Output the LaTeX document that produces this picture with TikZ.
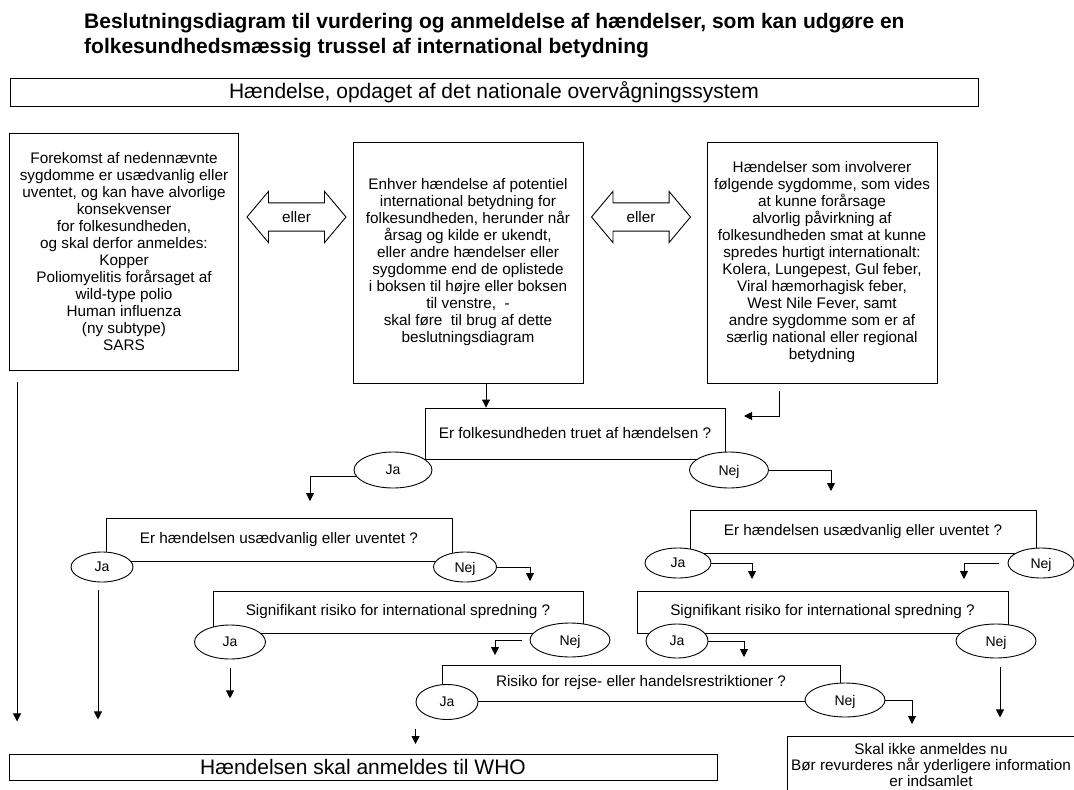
\documentclass[tikz,border=0pt]{standalone}
\usepackage{fontspec}
\setmainfont{Liberation Sans}
\usetikzlibrary{shapes.geometric,shapes.arrows,arrows.meta}

\newcommand{\titlesize}{\fontsize{21}{25}\selectfont\bfseries}
\newcommand{\bigsize}{\fontsize{21}{25}\selectfont}
\newcommand{\bodysize}{\fontsize{15.3}{17}\selectfont}
\newcommand{\ovalsize}{\fontsize{14}{16}\selectfont}

\tikzset{
  box/.style={draw, line width=0.9pt, inner sep=0pt, align=center, font=\bodysize},
  oval/.style={ellipse, draw, fill=white, line width=0.9pt, inner sep=0pt, font=\ovalsize,
    text depth=0pt},
  either/.style={double arrow, draw, line width=0.9pt, font=\bodysize,
    double arrow head extend=11.5pt, double arrow tip angle=100,
    minimum height=99pt, inner xsep=0pt, inner ysep=8pt},
  wire/.style={line width=0.9pt, ->},
  >={Triangle[length=8pt,width=8pt]}
}

\begin{document}
\begin{tikzpicture}[x=1pt, y=-1pt]
  \useasboundingbox (0,0) rectangle (1074,790);

  % Title
  \node[anchor=north west, align=left, font=\titlesize, inner sep=0pt] (title) at (84,13)
    {Beslutningsdiagram til vurdering og anmeldelse af hændelser, som kan udgøre en\\
     folkesundhedsmæssig trussel af international betydning};

  % Event
  \node[box, font=\bigsize, minimum width=968pt, minimum height=28pt] (event) at (494,92)
    {Hændelse, opdaget af det nationale overvågningssystem};

  % Three entry boxes
  \node[box, minimum width=229pt, minimum height=237pt] (listed) at (124,251.5)
    {Forekomst af nedennævnte\\ sygdomme er usædvanlig eller\\ uventet, og kan have alvorlige\\
     konsekvenser\\ for folkesundheden,\\ og skal derfor anmeldes:\\ Kopper\\
     Poliomyelitis forårsaget af\\ wild-type polio\\ Human influenza\\ (ny subtype)\\ SARS};
  \node[box, minimum width=230pt, minimum height=241pt] (any) at (468,262.5)
    {Enhver hændelse af potentiel\\ international betydning for\\ folkesundheden, herunder når\\
     årsag og kilde er ukendt,\\ eller andre hændelser eller\\ sygdomme end de oplistede\\
     i boksen til højre eller boksen\\ til venstre,~ -\\ skal føre~ til brug af dette\\
     beslutningsdiagram};
  \node[box, minimum width=230pt, minimum height=241pt] (severe) at (822,262.5)
    {Hændelser som involverer\\ følgende sygdomme, som vides\\ at kunne forårsage\\
     alvorlig påvirkning af\\ folkesundheden smat at kunne\\ spredes hurtigt internationalt:\\
     Kolera, Lungepest, Gul feber,\\ Viral hæmorhagisk feber,\\ West Nile Fever, samt\\
     andre sygdomme som er af\\ særlig national eller regional\\ betydning};

  % Either-or arrows
  \node[either] (or1) at (296.5,217) {eller};
  \node[either] (or2) at (641,217) {eller};

  % Questions
  \node[box, minimum width=300pt, minimum height=51pt] (q1) at (575,433.5)
    {Er folkesundheden truet af hændelsen ?};
  \node[box, minimum width=346pt, minimum height=43pt] (q2l) at (279,539.5)
    {Er hændelsen usædvanlig eller uventet ?};
  \node[box, minimum width=346pt, minimum height=43pt] (q2r) at (863,531.5)
    {Er hændelsen usædvanlig eller uventet ?};
  \node[box, minimum width=370pt, minimum height=42pt] (q3l) at (398,612)
    {Signifikant risiko for international spredning ?};
  \node[box, minimum width=371pt, minimum height=42pt] (q3r) at (822.5,612)
    {Signifikant risiko for international spredning ?};
  \node[box, minimum width=398pt, minimum height=36pt] (q4) at (641,683)
    {Risiko for rejse- eller handelsrestriktioner ?};

  % Answers
  \node[oval, minimum width=78pt, minimum height=36pt] (q1ja) at (393,470) {Ja};
  \node[oval, minimum width=79pt, minimum height=36pt] (q1nej) at (729,470) {Nej};
  \node[oval, minimum width=62pt, minimum height=30pt] (q2lja) at (102,567) {Ja};
  \node[oval, minimum width=63pt, minimum height=30pt] (q2lnej) at (465,567) {Nej};
  \node[oval, minimum width=66pt, minimum height=30pt] (q2rja) at (678,563) {Ja};
  \node[oval, minimum width=66pt, minimum height=30pt] (q2rnej) at (1041,563) {Nej};
  \node[oval, minimum width=71pt, minimum height=34pt] (q3lja) at (230,642) {Ja};
  \node[oval, minimum width=80pt, minimum height=34pt] (q3lnej) at (570,640) {Nej};
  \node[oval, minimum width=62pt, minimum height=34pt] (q3rja) at (677,641) {Ja};
  \node[oval, minimum width=80pt, minimum height=34pt] (q3rnej) at (996,641) {Nej};
  \node[oval, minimum width=62pt, minimum height=35pt] (q4ja) at (447,702) {Ja};
  \node[oval, minimum width=80pt, minimum height=34pt] (q4nej) at (845,700) {Nej};

  % Outcomes
  \node[box, font=\bigsize, minimum width=708pt, minimum height=26pt] (who) at (363,767)
    {Hændelsen skal anmeldes til WHO};
  \node[box, anchor=north, font=\fontsize{15.3}{16}\selectfont, minimum width=288pt,
    minimum height=58pt] (later) at (931,736)
    {Skal ikke anmeldes nu\\ Bør revurderes når yderligere information\\ er indsamlet};

  % Free ends
  \coordinate (q1in) at (744,416);
  \coordinate (q1from) at (779,391);
  \coordinate (q2lin) at (310,501);
  \coordinate (q2rin) at (831,491);
  \coordinate (q3lin) at (530,581);
  \coordinate (q2rjaend) at (752,579);
  \coordinate (q2rnejend) at (964,579);
  \coordinate (q4in) at (495,655);
  \coordinate (q4rin) at (744,657);
  \coordinate (laterin) at (912,724);

  % Connectors
  \draw[wire] (any.south -| 486,0) -- (q1.north -| 486,0);
  \draw[wire] (q1from) |- (q1in);
  \draw[wire] (q1ja.190) -| (q2lin);
  \draw[wire] (q1nej.east) -| (q2rin);
  \draw[wire] (q2lnej.east) -| (q3lin);
  \draw[wire] ([shift={(-4pt,-8pt)}]q2lja.south) -- ++(0,129);
  \draw[wire] (q2rja.east) -| (q2rjaend);
  \draw[wire] ([xshift=-9pt]q2rnej.west) -| (q2rnejend);
  \draw[wire] ([yshift=-9pt]q3lja.south) -- ++(0,30);
  \draw[wire] ([xshift=-8pt]q3lnej.west) -| (q4in);
  \draw[wire] (q3rja.east) -| (q4rin);
  \draw[wire] ([shift={(4pt,-9pt)}]q3rnej.south) -- ++(0,50);
  \draw[wire] ([yshift=-27pt]q4ja.west) -- ++(0,15);
  \draw[wire] (q4nej.east) -| (laterin);
  \draw[wire] ([shift={(8pt,-12pt)}]listed.south west) -- ++(0,339);
\end{tikzpicture}
\end{document}
